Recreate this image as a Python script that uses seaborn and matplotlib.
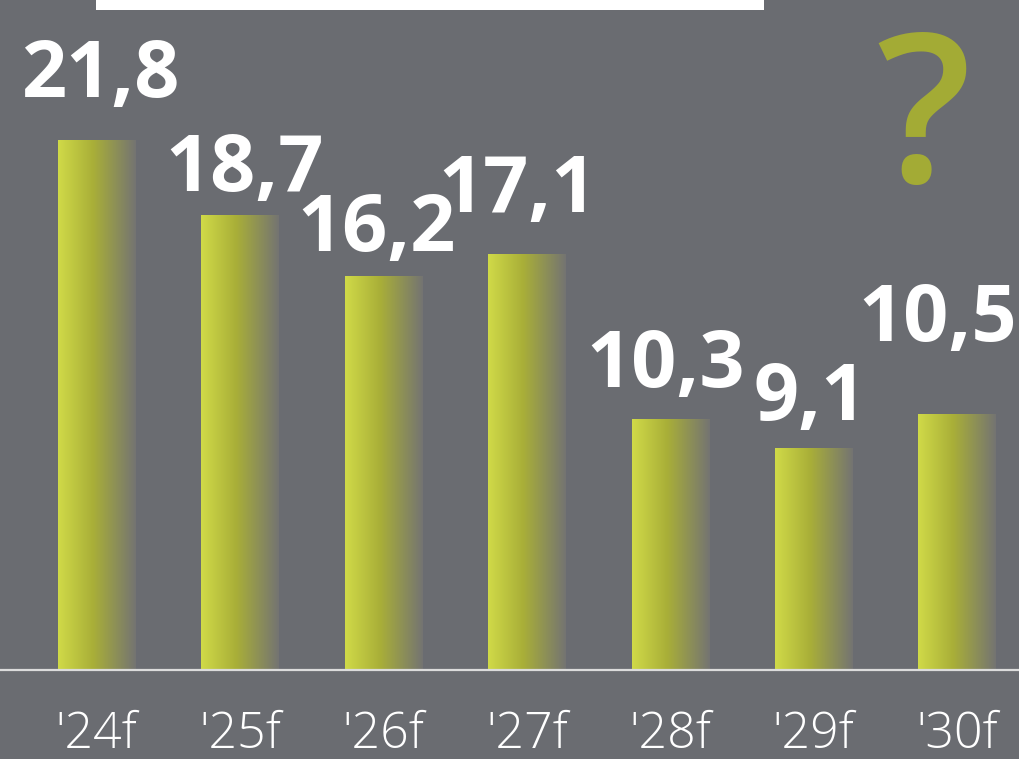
import seaborn as sns
import pandas as pd
import numpy as np
import matplotlib.pyplot as plt
from matplotlib.colors import LinearSegmentedColormap
from matplotlib.patches import Rectangle

years = ["'24f", "'25f", "'26f", "'27f", "'28f", "'29f", "'30f"]
values = [21.8, 18.7, 16.2, 17.1, 10.3, 9.1, 10.5]
value_labels = ["21,8", "18,7", "16,2", "17,1", "10,3", "9,1", "10,5"]

# label nudges in pixels (dx, dy above bar top) - labels aren't placed uniformly
label_dx = [4, 5, -7, -9, -5, -3, -19]
label_dy = [43, 25, 25, 42, 33, 29, 74]

bg = '#6a6c71'
sns.set_theme(style='white')
plt.rcParams['font.family'] = ['Open Sans', 'DejaVu Sans']

df = pd.DataFrame({'year': years, 'value': values})

fig = plt.figure(figsize=(10.2, 7.59), dpi=100)
fig.patch.set_facecolor(bg)
# axes bottom sits on the white baseline
ax = fig.add_axes([0, 89 / 759, 1, 670 / 759])
ax.set_facecolor(bg)

sns.barplot(data=df, x='year', y='value', ax=ax, width=0.537, color='#b5bb3a')

grad_cmap = LinearSegmentedColormap.from_list(
    'bar', [(0.0, '#d0da48'), (0.45, '#a9af38'), (1.0, '#747472')])
grad = np.linspace(0, 1, 256).reshape(1, -1)

for p in ax.patches:
    x0, y0 = p.get_x(), p.get_y()
    w, h = p.get_width(), p.get_height()
    p.set_facecolor('none')
    p.set_edgecolor('none')
    ax.imshow(grad, extent=[x0, x0 + w, y0, y0 + h], aspect='auto',
              cmap=grad_cmap, origin='lower', zorder=2)

ax.set_xlim(-0.673, 6.44)
ax.set_ylim(0, 27.57)

for i, (v, lab) in enumerate(zip(values, value_labels)):
    ax.annotate(lab, xy=(i, v), xytext=(label_dx[i], label_dy[i]),
                textcoords='offset pixels', ha='center', va='baseline',
                fontsize=57, fontweight='bold', color='white', zorder=5)

ax.axhline(0, color='#dcdcdc', lw=1.6, clip_on=False, zorder=4)

ax.set_xlabel('')
ax.set_ylabel('')
ax.set_yticks([])
ax.tick_params(axis='x', length=0, pad=29, labelsize=36, labelcolor='white')
for t in ax.get_xticklabels():
    t.set_fontweight('light')
for s in ax.spines.values():
    s.set_visible(False)

# partially visible title box at the very top
fig.patches.append(Rectangle((96 / 1020, 1 - 10 / 759), (764 - 96) / 1020, 10 / 759,
                             transform=fig.transFigure, facecolor='white',
                             edgecolor='none', zorder=10))

fig.text(924 / 1020, 1 - 182 / 759, '?', ha='center', va='baseline',
         fontsize=150, color='#a3ab35', fontweight='semibold')

fig.savefig('out.png', dpi=100, facecolor=bg)
